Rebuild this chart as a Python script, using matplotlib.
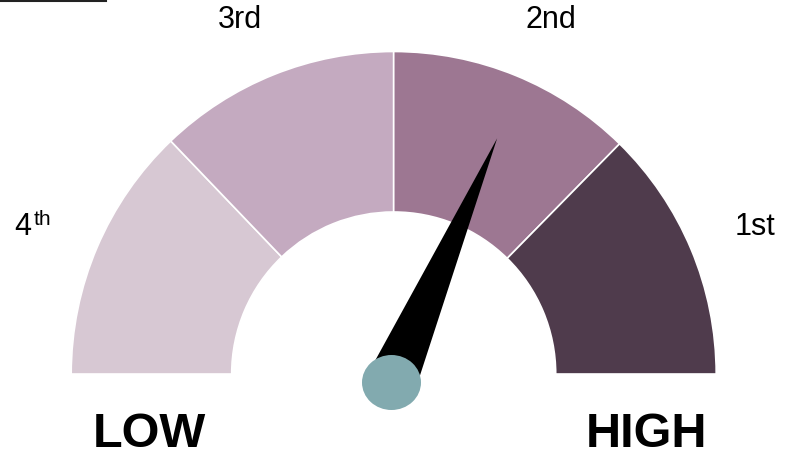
import numpy as np
import matplotlib
matplotlib.use("Agg")
import matplotlib.pyplot as plt
from matplotlib.patches import Wedge, Ellipse, Polygon
from matplotlib.lines import Line2D

# Gauge data: segment boundaries on a 0-100 scale (0 = left, 100 = right)
segment_labels = ["4th", "3rd", "2nd", "1st"]
segment_edges = [0, 25.7, 50, 74.7, 100]
segment_colors = ["#D7C8D3", "#C4AAC0", "#9D7792", "#4F3B4C"]
needle_value = 63
scale_labels = ["LOW", "HIGH"]

plt.rcParams['font.family'] = ['Liberation Sans', 'DejaVu Sans']

W, H = 809, 461
fig = plt.figure(figsize=(W / 100, H / 100), dpi=100)
ax = fig.add_axes([0, 0, 1, 1])
ax.set_xlim(0, W)
ax.set_ylim(0, H)
ax.axis('off')

cx, cy = 393.7, 87.0
r_out, r_in = 322.5, 162.0


def to_angle(v):
    return 180.0 - v * 1.8


# gauge segments
for i in range(len(segment_labels)):
    a1 = to_angle(segment_edges[i + 1])
    a2 = to_angle(segment_edges[i])
    ax.add_patch(Wedge((cx, cy), r_out, a1, a2, width=r_out - r_in,
                       facecolor=segment_colors[i], edgecolor='white', linewidth=1.2))

# needle
px, py = 391.5, 78.5
ang = np.radians(to_angle(needle_value))
length = 266
half_w = 25
tip = (px + length * np.cos(ang), py + length * np.sin(ang))
nx, ny = np.sin(ang), -np.cos(ang)
base1 = (px + half_w * nx, py + half_w * ny)
base2 = (px - half_w * nx, py - half_w * ny)
ax.add_patch(Polygon([tip, base1, base2], closed=True, facecolor='black', edgecolor='none'))
ax.add_patch(Ellipse((px, py), 59, 55, facecolor='#82AAAF', edgecolor='none'))

# segment labels
txt = dict(fontsize=22, color='black', va='baseline')
ax.text(14, 226, "4", ha='left', **txt)
ax.text(34, 236, "th", ha='left', fontsize=15, color='black', va='baseline')
ax.text(239.7, 432.7, segment_labels[1], ha='center', **txt)
ax.text(551, 432.7, segment_labels[2], ha='center', **txt)
ax.text(755, 226, segment_labels[3], ha='center', **txt)

# LOW / HIGH
ax.text(149.5, 14.3, scale_labels[0], ha='center', va='baseline',
        fontsize=35, fontweight='bold', color='black')
ax.text(647, 14.3, scale_labels[1], ha='center', va='baseline',
        fontsize=35, fontweight='bold', color='black')

# thin border stub at the top left
fig.add_artist(Line2D([0, 106 / W], [1 - 1 / H, 1 - 1 / H], color='#222222',
                      linewidth=1.5, transform=fig.transFigure))

fig.savefig("out.png", dpi=100)
